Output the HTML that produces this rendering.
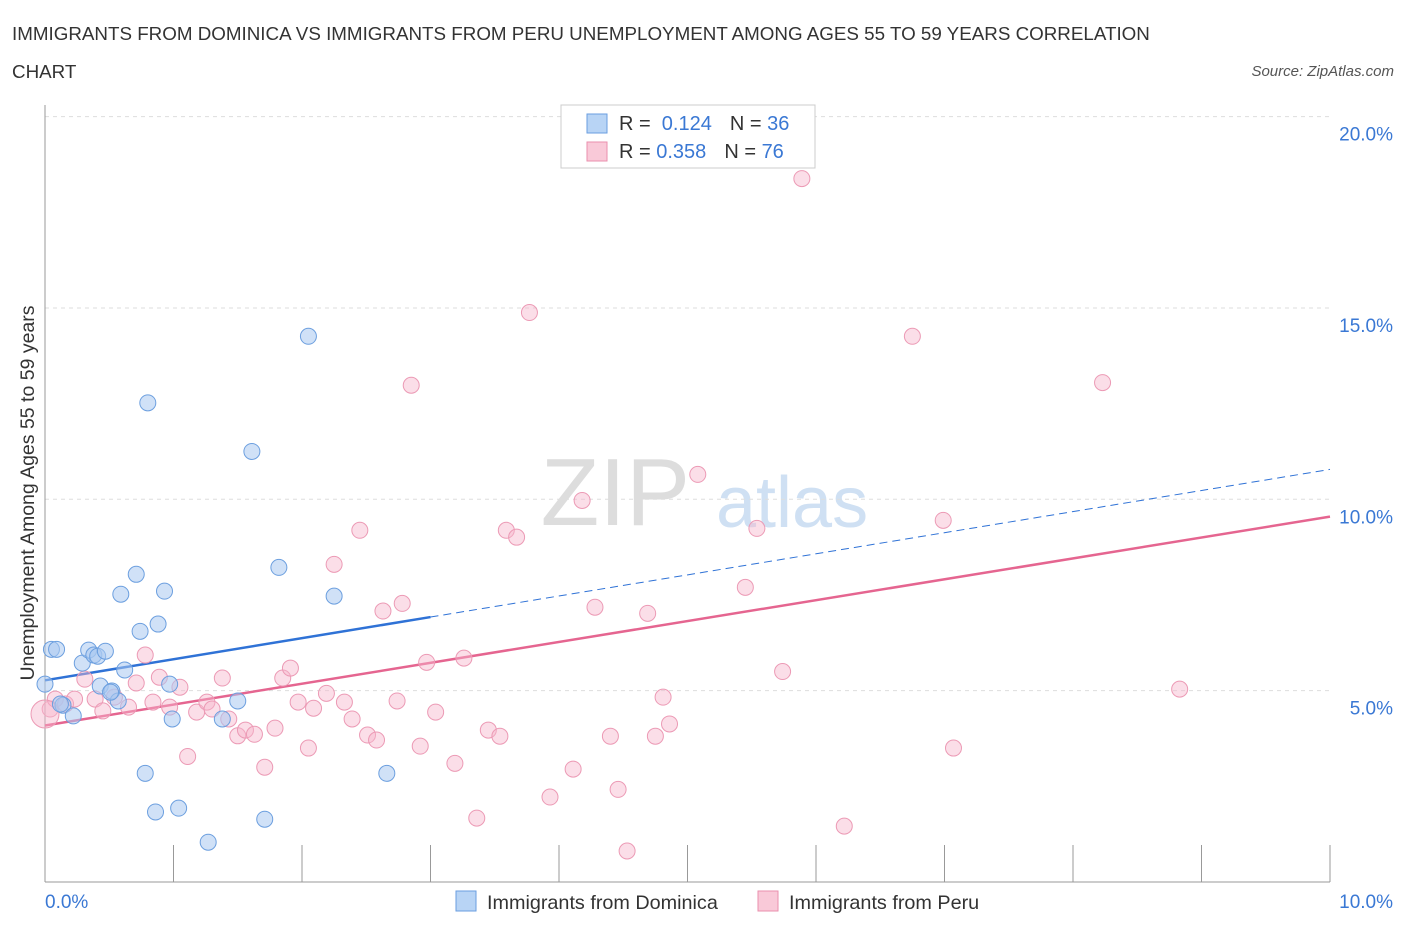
<!DOCTYPE html>
<html><head><meta charset="utf-8"><style>
body{margin:0;background:#fff;font-family:"Liberation Sans",sans-serif;}
svg text{font-family:"Liberation Sans",sans-serif;}
</style></head><body>
<svg width="1406" height="930" xmlns="http://www.w3.org/2000/svg">
<text x="12" y="40" font-size="18.8" fill="#333">IMMIGRANTS FROM DOMINICA VS IMMIGRANTS FROM PERU UNEMPLOYMENT AMONG AGES 55 TO 59 YEARS CORRELATION</text>
<text x="12" y="78" font-size="18.8" fill="#333">CHART</text>
<text x="1394" y="76" font-size="15" fill="#555" font-style="italic" text-anchor="end">Source: ZipAtlas.com</text>
<text x="690" y="525" font-size="96" fill="#ddd" text-anchor="end" font-family="Liberation Serif">ZIP</text>
<text x="716" y="527" font-size="72" fill="#cfe0f3">atlas</text>
<g id="grid"></g>
<g id="axes"></g>
<text transform="translate(34,493) rotate(-90)" font-size="19.5" fill="#333" text-anchor="middle">Unemployment Among Ages 55 to 59 years</text>
<g id="lines"></g>
<g id="pts"></g>
<rect x="561" y="105" width="254" height="63" fill="#fff" stroke="#ccc"/>
<rect x="587" y="114" width="20" height="19" fill="#b8d4f5" stroke="#6a9ee0"/>
<rect x="587" y="142" width="20" height="19" fill="#f9c9d8" stroke="#ea8fae"/>
<text x="619" y="130" font-size="20" fill="#333">R = <tspan fill="#3a78d4">&#160;0.124</tspan><tspan dx="18">N = </tspan><tspan fill="#3a78d4">36</tspan></text>
<text x="619" y="158" font-size="20" fill="#333">R = <tspan fill="#3a78d4">0.358</tspan><tspan dx="18">N = </tspan><tspan fill="#3a78d4">76</tspan></text>
<rect x="456" y="891" width="20" height="20" fill="#b8d4f5" stroke="#6a9ee0"/>
<text x="487" y="909" font-size="19.8" fill="#333">Immigrants from Dominica</text>
<rect x="758" y="891" width="20" height="20" fill="#f9c9d8" stroke="#ea8fae"/>
<text x="789" y="909" font-size="19.8" fill="#333">Immigrants from Peru</text>
</svg>
<script>
const yTicks=[5,10,15,20];
const yTickLabels=["5.0%","10.0%","15.0%","20.0%"];
const xTickLabels=["0.0%","10.0%"];
const domX=[0.00,0.05,0.09,0.14,0.22,0.29,0.34,0.38,0.41,0.47,0.43,0.52,0.57,0.62,0.59,0.71,0.74,0.88,0.93,0.97,0.99,0.80,0.78,0.86,1.04,1.27,1.38,1.50,1.61,1.71,1.82,2.05,2.25,2.66,0.12,0.51];
const domY=[5.17,6.08,6.08,4.62,4.34,5.72,6.06,5.93,5.90,6.03,5.12,4.99,4.73,5.54,7.52,8.04,6.55,6.74,7.60,5.17,4.26,12.52,2.84,1.83,1.93,1.04,4.26,4.73,11.25,1.64,8.22,14.26,7.47,2.84,4.65,4.96];
const peruX=[0.04,0.08,0.16,0.23,0.31,0.39,0.45,0.54,0.65,0.71,0.78,0.84,0.89,0.97,1.05,1.11,1.18,1.26,1.30,1.38,1.43,1.50,1.56,1.63,1.71,1.79,1.85,1.91,1.97,2.05,2.09,2.19,2.25,2.33,2.39,2.45,2.51,2.58,2.63,2.78,2.74,2.85,2.92,2.97,3.04,3.19,3.26,3.36,3.45,3.54,3.59,3.67,3.77,3.93,4.11,4.18,4.28,4.40,4.46,4.53,4.69,4.75,4.81,4.86,5.08,5.45,5.54,5.74,5.89,6.22,6.75,6.99,7.07,8.23,8.83,0.00];
const peruY=[4.52,4.78,4.65,4.78,5.30,4.78,4.47,4.83,4.57,5.20,5.93,4.70,5.35,4.57,5.09,3.28,4.44,4.70,4.52,5.33,4.26,3.82,3.97,3.86,3.00,4.02,5.33,5.59,4.70,3.50,4.54,4.93,8.30,4.70,4.26,9.19,3.84,3.71,7.08,7.28,4.73,12.98,3.55,5.74,4.44,3.10,5.85,1.67,3.97,3.81,9.19,9.01,14.88,2.22,2.95,9.97,7.18,3.81,2.42,0.81,7.02,3.81,4.83,4.13,10.65,7.70,9.24,5.50,18.38,1.46,14.26,9.45,3.50,13.05,5.04,4.39];
const xs=v=>45+v*128.5, ys=v=>882-v*38.27;
const NS="http://www.w3.org/2000/svg";
function mk(t,a,p){const e=document.createElementNS(NS,t);for(const k in a)e.setAttribute(k,a[k]);document.getElementById(p).appendChild(e);return e;}
yTicks.forEach((t,i)=>{
 const g=mk('line',{x1:45,x2:1330,y1:ys(t),y2:ys(t),stroke:'#ddd','stroke-dasharray':'4,4'},'grid');
 
 
 const l=mk('text',{x:1393,y:ys(t)+24,'font-size':19,fill:'#3a78d4','text-anchor':'end'},'axes');l.textContent=yTickLabels[i];
 
 
});
const ax=mk('line',{x1:45,x2:1330,y1:882,y2:882,stroke:'#999'},'axes');


const ay=mk('line',{x1:45,x2:45,y1:105,y2:882,stroke:'#999'},'axes');


for(let i=0;i<=10;i++){const t=mk('line',{x1:xs(i),x2:xs(i),y1:845,y2:882,stroke:'#999'},'axes');
 
 }
[[0,45,'start'],[10,1393,'end']].forEach((d,i)=>{const l=mk('text',{x:d[1],y:908,'font-size':19,fill:'#3a78d4','text-anchor':d[2]},'axes');l.textContent=xTickLabels[i];
 
 });
function fit(X,Y){const n=X.length;let mx=0,my=0;X.forEach((v,i)=>{mx+=v;my+=Y[i];});mx/=n;my/=n;let sxy=0,sxx=0;X.forEach((v,i)=>{sxy+=(v-mx)*(Y[i]-my);sxx+=(v-mx)**2;});const b=sxy/sxx;return [my-b*mx,b];}
const fd=fit(domX,domY), fp=fit(peruX,peruY);
let l1=mk('line',{x1:xs(0),y1:ys(fd[0]),x2:xs(3),y2:ys(fd[0]+fd[1]*3),stroke:'#2f72d6','stroke-width':2.5},'lines');


let l2=mk('line',{x1:xs(3),y1:ys(fd[0]+fd[1]*3),x2:xs(10),y2:ys(fd[0]+fd[1]*10),stroke:'#2f72d6','stroke-width':1,'stroke-dasharray':'8,5'},'lines');


let l3=mk('line',{x1:xs(0),y1:ys(fp[0]),x2:xs(10),y2:ys(fp[0]+fp[1]*10),stroke:'#e56590','stroke-width':2.5},'lines');


peruX.forEach((v,i)=>{const c=mk('circle',{cx:xs(v),cy:ys(peruY[i]),r:i==75?14:8,fill:'rgba(247,182,203,0.45)',stroke:'#ec9ab5','stroke-width':1},'pts');
 
 });
domX.forEach((v,i)=>{const c=mk('circle',{cx:xs(v),cy:ys(domY[i]),r:8,fill:'rgba(170,200,240,0.55)',stroke:'#6c9fdf','stroke-width':1},'pts');
 
 });
</script>
</body></html>
